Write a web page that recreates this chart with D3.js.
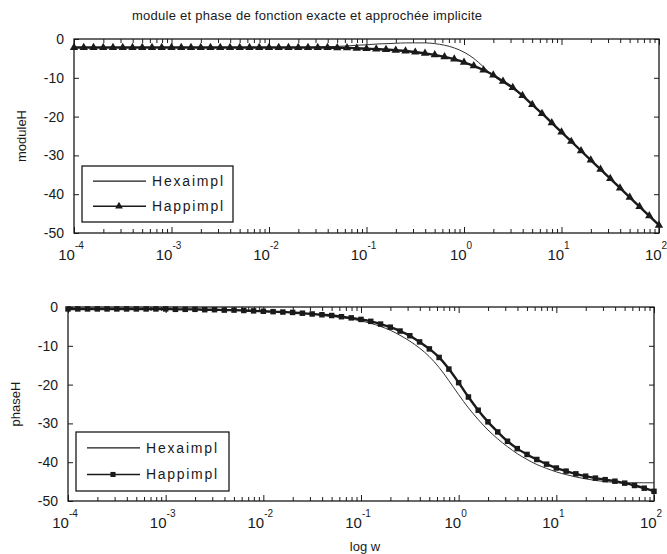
<!DOCTYPE html>
<html>
<head>
<meta charset="utf-8">
<script src="https://cdn.jsdelivr.net/npm/d3@7"></script>
<style>
  body { margin: 0; background: #fff; }
  svg { display: block; font-family: "Liberation Sans", Arial, sans-serif; }
</style>
</head>
<body>
<div id="chart"></div>
<script>
// sampling grid: log10(w) from -4 to 2, every 0.1 decade
const logW = d3.range(-40, 21).map(i => i / 10);

// module (dB)
const modExa = [
  -2.2, -2.2, -2.2, -2.2, -2.2, -2.2, -2.2, -2.2, -2.2, -2.2,
  -2.2, -2.2, -2.2, -2.2, -2.2, -2.2, -2.2, -2.2, -2.2, -2.2,
  -2.2, -2.2, -2.2, -2.2, -2.2, -2.1, -2.0, -1.9, -1.8, -1.6,
  -1.5, -1.3, -1.2, -1.1, -1.0, -1.0, -1.0, -1.2, -1.6, -2.3,
  -3.4, -5.0, -7.2, -9.5, -11.2, -12.8, -14.7, -16.9, -19.2, -21.6,
  -24.0, -26.4, -28.8, -31.2, -33.6, -36.0, -38.4, -40.8, -43.2, -45.6,
  -48.0
];
const modApp = [
  -2.2, -2.2, -2.2, -2.2, -2.2, -2.2, -2.2, -2.2, -2.2, -2.2,
  -2.2, -2.2, -2.2, -2.2, -2.2, -2.2, -2.2, -2.2, -2.2, -2.2,
  -2.2, -2.2, -2.2, -2.2, -2.2, -2.2, -2.2, -2.3, -2.3, -2.4,
  -2.5, -2.6, -2.7, -2.9, -3.1, -3.4, -3.7, -4.1, -4.6, -5.2,
  -6.0, -6.9, -8.0, -9.3, -10.9, -12.5, -14.6, -16.9, -19.2, -21.6,
  -24.0, -26.4, -28.8, -31.2, -33.6, -36.0, -38.4, -40.8, -43.2, -45.6,
  -48.0
];

// phase (deg)
const phExa = [
  -0.5, -0.5, -0.5, -0.5, -0.5, -0.5, -0.5, -0.5, -0.5, -0.5,
  -0.5, -0.6, -0.6, -0.6, -0.7, -0.7, -0.8, -0.8, -0.9, -1.0,
  -1.1, -1.2, -1.3, -1.4, -1.6, -1.8, -2.1, -2.4, -2.7, -3.1,
  -3.6, -4.2, -5.0, -6.0, -7.3, -8.8, -10.6, -12.8, -15.6, -19.0,
  -22.6, -26.0, -29.0, -31.7, -34.0, -36.0, -37.8, -39.3, -40.6, -41.6,
  -42.5, -43.2, -43.8, -44.3, -44.7, -45.0, -45.2, -45.3, -45.3, -45.3,
  -45.3
];
const phApp = [
  -0.5, -0.5, -0.5, -0.5, -0.5, -0.5, -0.5, -0.5, -0.5, -0.5,
  -0.5, -0.6, -0.6, -0.6, -0.7, -0.7, -0.8, -0.8, -0.9, -1.0,
  -1.1, -1.2, -1.3, -1.4, -1.6, -1.8, -2.0, -2.2, -2.5, -2.8,
  -3.2, -3.7, -4.4, -5.2, -6.2, -7.4, -9.0, -10.8, -13.0, -16.0,
  -19.5, -23.2, -26.6, -29.6, -32.2, -34.6, -36.5, -38.0, -39.3, -40.5,
  -41.5, -42.3, -43.0, -43.6, -44.1, -44.5, -44.9, -45.4, -46.0, -46.7,
  -47.5
];

const decades = [-4, -3, -2, -1, 0, 1, 2];
const yTicks = [0, -10, -20, -30, -40, -50];

const width = 667, height = 554;
const svg = d3.select("#chart").append("svg")
  .attr("width", width)
  .attr("height", height);

const ink = "#1a1a1a";

// one bode panel
function drawPanel(box, exa, app, yLabel, names, legendBox, marker) {
  let x = d3.scaleLog().domain([1e-4, 1e2]).range([box.x0, box.x1]);
  let y = d3.scaleLinear().domain([-50, 0]).range([box.y1, box.y0]);

  let g = svg.append("g");

  // minor ticks 2..9 in each decade
  let minor = [];
  decades.slice(0, -1).forEach(k => {
    for (let m = 2; m <= 9; m++) minor.push(m * Math.pow(10, k));
  });
  let major = decades.map(k => Math.pow(10, k));

  // x ticks, inward, bottom and top
  [[d3.axisBottom, box.y1], [d3.axisTop, box.y0]].forEach(([ax, yy]) => {
    g.append("g")
      .attr("transform", `translate(0,${yy})`)
      .call(ax(x).tickValues(minor).tickSize(-4).tickFormat(""))
      .call(s => s.select(".domain").remove())
      .selectAll("line").attr("stroke", ink);
    g.append("g")
      .attr("transform", `translate(0,${yy})`)
      .call(ax(x).tickValues(major).tickSize(-6).tickFormat(""))
      .call(s => s.select(".domain").remove())
      .selectAll("line").attr("stroke", ink);
  });

  // y ticks, inward, left and right
  g.append("g")
    .attr("transform", `translate(${box.x0},0)`)
    .call(d3.axisLeft(y).tickValues(yTicks).tickSize(-5).tickFormat(""))
    .call(s => s.select(".domain").remove())
    .selectAll("line").attr("stroke", ink);
  g.append("g")
    .attr("transform", `translate(${box.x1},0)`)
    .call(d3.axisRight(y).tickValues(yTicks).tickSize(-5).tickFormat(""))
    .call(s => s.select(".domain").remove())
    .selectAll("line").attr("stroke", ink);

  // frame
  g.append("rect")
    .attr("x", box.x0).attr("y", box.y0)
    .attr("width", box.x1 - box.x0).attr("height", box.y1 - box.y0)
    .attr("fill", "none").attr("stroke", ink).attr("stroke-width", 1.3);

  // y tick labels
  g.selectAll(".ylab").data(yTicks).enter().append("text")
    .attr("x", box.x0 - 10)
    .attr("y", d => y(d) + 5)
    .attr("text-anchor", "end")
    .attr("font-size", 14)
    .attr("fill", ink)
    .text(d => d === 0 ? "0" : "-" + Math.abs(d));

  // x tick labels 10^k
  decades.forEach(k => {
    let t = g.append("text")
      .attr("x", x(Math.pow(10, k)) - 3)
      .attr("y", box.y1 + 27)
      .attr("text-anchor", "middle")
      .attr("fill", ink);
    t.append("tspan").attr("font-size", 15).text("10");
    t.append("tspan").attr("font-size", 10).attr("dy", -11).text(k);
  });

  // y axis label
  g.append("text")
    .attr("transform", `translate(${box.x0 - 48},${(box.y0 + box.y1) / 2}) rotate(-90)`)
    .attr("text-anchor", "middle")
    .attr("font-size", 13)
    .attr("fill", ink)
    .text(yLabel);

  let pts = (vals) => logW.map((lw, i) => [Math.pow(10, lw), vals[i]]);
  let line = d3.line().curve(d3.curveMonotoneX).x(d => x(d[0])).y(d => y(d[1]));

  // exact: thin line
  g.append("path")
    .datum(pts(exa))
    .attr("d", line)
    .attr("fill", "none")
    .attr("stroke", "#333")
    .attr("stroke-width", 1);

  // approximated: line with markers
  g.append("path")
    .datum(pts(app))
    .attr("d", line)
    .attr("fill", "none")
    .attr("stroke", ink)
    .attr("stroke-width", 2.4);

  let sym = d3.symbol().type(marker).size(30);
  g.selectAll(".mk").data(pts(app)).enter().append("path")
    .attr("d", sym)
    .attr("transform", d => `translate(${x(d[0])},${y(d[1])})`)
    .attr("fill", ink);

  // legend
  let lg = g.append("g");
  lg.append("rect")
    .attr("x", legendBox.x).attr("y", legendBox.y)
    .attr("width", legendBox.w).attr("height", legendBox.h)
    .attr("fill", "#fff").attr("stroke", ink).attr("stroke-width", 1.3);
  let rowY = [legendBox.y + legendBox.h * 0.27, legendBox.y + legendBox.h * 0.72];
  names.forEach((name, i) => {
    lg.append("line")
      .attr("x1", legendBox.x + 11).attr("x2", legendBox.x + 64)
      .attr("y1", rowY[i]).attr("y2", rowY[i])
      .attr("stroke", ink).attr("stroke-width", i === 0 ? 1.2 : 1.4);
    if (i === 1) {
      lg.append("path")
        .attr("d", d3.symbol().type(marker).size(26))
        .attr("transform", `translate(${legendBox.x + 37},${rowY[i]})`)
        .attr("fill", ink);
    }
    lg.append("text")
      .attr("x", legendBox.x + 70)
      .attr("y", rowY[i] + 5)
      .attr("font-size", 14)
      .attr("textLength", 71)
      .attr("fill", ink)
      .text(name);
  });
}

// title
svg.append("text")
  .attr("x", 307).attr("y", 20)
  .attr("text-anchor", "middle")
  .attr("font-size", 13)
  .attr("textLength", 350)
  .attr("fill", ink)
  .text("module et phase de fonction exacte et approchée  implicite");

drawPanel({ x0: 74, x1: 659, y0: 39, y1: 233 }, modExa, modApp, "moduleH",
  ["Hexaimpl", "Happimpl"], { x: 82, y: 166, w: 151, h: 56 }, d3.symbolTriangle);

drawPanel({ x0: 68, x1: 654, y0: 307, y1: 501 }, phExa, phApp, "phaseH",
  ["Hexaimpl", "Happimpl"], { x: 76, y: 432, w: 153, h: 59 }, d3.symbolSquare);

// x label
svg.append("text")
  .attr("x", 365).attr("y", 551)
  .attr("text-anchor", "middle")
  .attr("font-size", 13)
  .attr("fill", ink)
  .text("log w");
</script>
</body>
</html>
